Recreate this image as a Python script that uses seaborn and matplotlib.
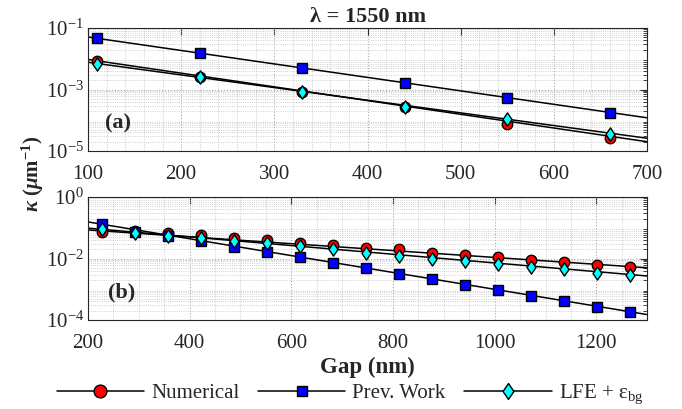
import numpy as np
import pandas as pd
import matplotlib
matplotlib.use("Agg")
import matplotlib.pyplot as plt
import seaborn as sns
from matplotlib.lines import Line2D
from matplotlib.path import Path
from matplotlib.ticker import LogLocator, MultipleLocator, NullFormatter

# ---------------- data ----------------
gap_a = [110, 220, 330, 440, 550, 660]
num_a = [8.5e-3, 2.6e-3, 8.3e-4, 2.7e-4, 7.4e-5, 2.6e-5]
prev_a = [4.7e-2, 1.55e-2, 5.0e-3, 1.6e-3, 5.4e-4, 1.7e-4]
lfe_a = [7.0e-3, 2.6e-3, 8.3e-4, 2.6e-4, 1.1e-4, 3.5e-5]
# fitted lines (end points)
fitx_a = [100, 700]
fit_num_a = [9.5e-3, 2.0e-5]
fit_prev_a = [5.1e-2, 1.2e-4]
fit_lfe_a = [7.7e-3, 2.6e-5]

gap_b = [227, 292, 357, 422, 487, 552, 617, 682, 747, 812, 877, 942, 1007,
         1072, 1137, 1202, 1267]
num_b = [0.075, 0.078, 0.069, 0.057, 0.048, 0.040, 0.033, 0.028, 0.022, 0.020,
         0.0155, 0.013, 0.011, 0.0091, 0.0075, 0.0061, 0.0054]
prev_b = [0.13, 0.074, 0.054, 0.037, 0.024, 0.0166, 0.011, 0.0069, 0.0048,
          0.0031, 0.0022, 0.0014, 9.3e-4, 6.2e-4, 4.0e-4, 2.7e-4, 1.8e-4]
lfe_b = [0.089, 0.069, 0.054, 0.045, 0.037, 0.031, 0.026, 0.020, 0.0155,
         0.0123, 0.0098, 0.0083, 0.0065, 0.0054, 0.0045, 0.0035, 0.0029]
fitx_b = [200, 1300]
fit_num_b = [0.085, 0.0050]
fit_prev_b = [0.155, 1.5e-4]
fit_lfe_b = [0.097, 0.0027]

labels = ["Numerical", "Prev. Work", r"LFE + $\mathdefault{ε_{bg}}$"]
face = ["#ff0000", "#0000ff", "#00ffff"]

diamond = Path([(0, 1), (0.68, 0), (0, -1), (-0.68, 0), (0, 1)],
               [Path.MOVETO, Path.LINETO, Path.LINETO, Path.LINETO, Path.CLOSEPOLY])
mark = ["o", "s", diamond]
msize = [7.5, 6.5, 9.5]
msize_leg = [9.2, 7.2, 11.5]

# ---------------- style ----------------
sns.set_style("white")
plt.rcParams["font.family"] = ["Liberation Serif", "DejaVu Serif"]
plt.rcParams["mathtext.fontset"] = "custom"
plt.rcParams["mathtext.it"] = "Liberation Serif:italic:bold"
plt.rcParams["mathtext.rm"] = "Liberation Serif:bold"
plt.rcParams["mathtext.bf"] = "Liberation Serif:bold"

fig = plt.figure(figsize=(6.82, 4.09), dpi=100)
axA = fig.add_axes([0.129, 0.6308, 0.820, 0.3007])
axB = fig.add_axes([0.129, 0.2176, 0.820, 0.3007])


def draw(ax, gx, series, fx, fits):
    for ys, fy in zip(series, fits):
        dfl = pd.DataFrame({"x": fx, "y": fy})
        sns.lineplot(data=dfl, x="x", y="y", ax=ax, color="black", lw=1.1,
                     zorder=2, legend=False)
    for i, ys in enumerate(series):
        dfs = pd.DataFrame({"x": gx, "y": ys})
        ax.plot(dfs["x"], dfs["y"], ls="none", marker=mark[i],
                markersize=msize[i], markerfacecolor=face[i],
                markeredgecolor="black", markeredgewidth=1.0, zorder=3 + i)


draw(axA, gap_a, [num_a, prev_a, lfe_a], fitx_a, [fit_num_a, fit_prev_a, fit_lfe_a])
draw(axB, gap_b, [num_b, prev_b, lfe_b], fitx_b, [fit_num_b, fit_prev_b, fit_lfe_b])

for ax, xl, yl, xmaj, xmin, ym in [
        (axA, (100, 700), (1e-5, 1e-1), 100, 20, [1e-5, 1e-3, 1e-1]),
        (axB, (200, 1300), (1e-4, 1e0), 200, 50, [1e-4, 1e-2, 1e0])]:
    ax.set_yscale("log")
    ax.set_xlim(*xl)
    ax.set_ylim(*yl)
    ax.set_xlabel("")
    ax.set_ylabel("")
    ax.xaxis.set_major_locator(MultipleLocator(xmaj))
    ax.xaxis.set_minor_locator(MultipleLocator(xmin))
    ax.set_yticks(ym)
    ax.yaxis.set_minor_locator(LogLocator(base=10, subs=np.arange(2, 10), numticks=20))
    ax.yaxis.set_minor_formatter(NullFormatter())
    ax.grid(which="major", color="#a8a8a8", ls=":", lw=0.8)
    ax.grid(which="minor", color="#c0c0c0", ls=":", lw=0.6)
    ax.tick_params(which="both", direction="in", top=True, right=True,
                   labelsize=15)
    ax.tick_params(axis="x", which="major", pad=10)
    ax.tick_params(axis="y", which="major", pad=3)
    ax.tick_params(which="major", length=5, width=0.8)
    ax.tick_params(axis="x", which="minor", length=0)
    ax.tick_params(axis="y", which="minor", length=3, width=0.6)
    for s in ax.spines.values():
        s.set_color("#262626")
        s.set_linewidth(0.8)
    ax.set_axisbelow(True)

axA.set_title("λ = 1550 nm", fontsize=16, fontweight="bold", pad=4)
axA.text(0.03, 0.22, "(a)", transform=axA.transAxes, fontsize=16,
         fontweight="bold", va="center", ha="left")
axB.text(0.035, 0.22, "(b)", transform=axB.transAxes, fontsize=16,
         fontweight="bold", va="center", ha="left")
axB.set_xlabel("Gap (nm)", fontsize=16.5, fontweight="bold", labelpad=3)
fig.text(0.048, 0.575, r"$\kappa$ ($\mu$m$^{-1}$)", rotation=90, fontsize=15,
         fontweight="bold", ha="center", va="center")

handles = [Line2D([0], [0], color="black", lw=1.1, marker=mark[i],
                  markersize=msize_leg[i], markerfacecolor=face[i],
                  markeredgecolor="black")
           for i in range(3)]
fig.legend(handles, labels, loc="center", bbox_to_anchor=(0.513, 0.036),
           ncol=3, frameon=False, fontsize=15, handlelength=4.2,
           handletextpad=0.33, columnspacing=0.9)

fig.savefig("out.png", dpi=100)
